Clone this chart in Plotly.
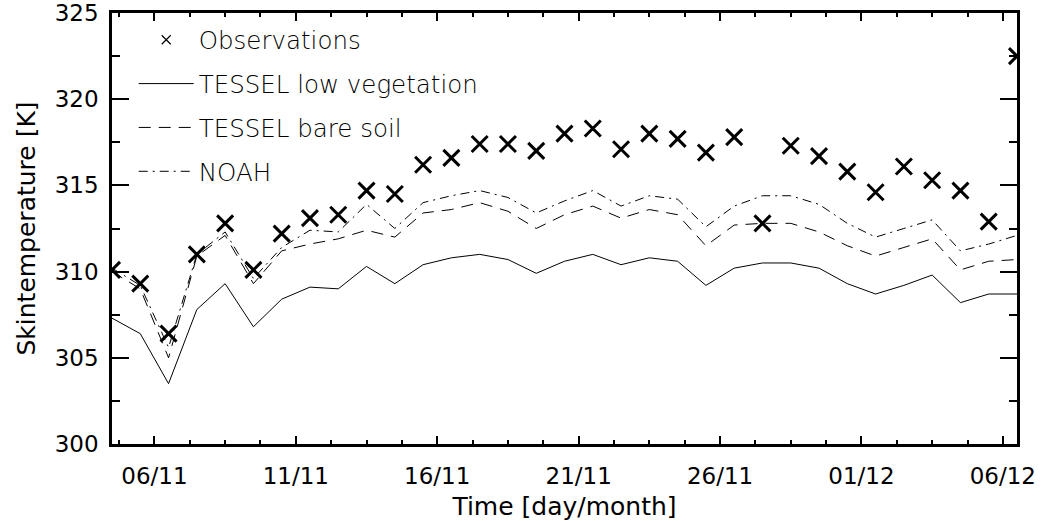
import plotly.graph_objects as go

# Day of November (values > 30 run into December), one value per day at noon
day = [4.5, 5.5, 6.5, 7.5, 8.5, 9.5, 10.5, 11.5, 12.5, 13.5, 14.5, 15.5, 16.5,
       17.5, 18.5, 19.5, 20.5, 21.5, 22.5, 23.5, 24.5, 25.5, 26.5, 27.5, 28.5,
       29.5, 30.5, 31.5, 32.5, 33.5, 34.5, 35.5, 36.5]

observations = [310.1, 309.3, 306.4, 311.0, 312.8, 310.1, 312.2, 313.1, 313.3,
                314.7, 314.5, 316.2, 316.6, 317.4, 317.4, 317.0, 318.0, 318.3,
                317.1, 318.0, 317.7, 316.9, 317.8, 312.8, 317.3, 316.7, 315.8,
                314.6, 316.1, 315.3, 314.7, 312.9, 322.5]

tessel_low_veg = [307.3, 306.4, 303.5, 307.8, 309.3, 306.8, 308.4, 309.1, 309.0,
                  310.3, 309.3, 310.4, 310.8, 311.0, 310.7, 309.9, 310.6, 311.0,
                  310.4, 310.8, 310.6, 309.2, 310.2, 310.5, 310.5, 310.2, 309.3,
                  308.7, 309.2, 309.8, 308.2, 308.7, 308.7]

tessel_bare_soil = [310.0, 309.0, 305.0, 310.9, 312.1, 309.3, 311.2, 311.6, 311.9,
                    312.4, 312.0, 313.4, 313.6, 314.0, 313.5, 312.5, 313.3, 313.8,
                    313.1, 313.6, 313.3, 311.5, 312.7, 312.8, 312.8, 312.3, 311.5,
                    310.9, 311.4, 311.9, 310.1, 310.6, 310.7]

noah = [310.2, 309.2, 305.6, 311.0, 312.3, 309.6, 311.4, 312.4, 312.3,
        313.9, 312.5, 314.0, 314.4, 314.7, 314.3, 313.4, 314.1, 314.7,
        313.8, 314.4, 314.2, 312.6, 313.8, 314.4, 314.4, 313.9, 312.8,
        312.0, 312.5, 313.0, 311.2, 311.6, 312.1]

tick_vals = [6, 11, 16, 21, 26, 31, 36]
tick_text = ["06/11", "11/11", "16/11", "21/11", "26/11", "01/12", "06/12"]

FONT = "DejaVu Sans"

fig = go.Figure()

# legend-only entry for observations (small thin x like the reference legend)
fig.add_trace(go.Scatter(
    x=[None], y=[None], mode="markers", name="Observations",
    legendgroup="a",
    marker=dict(symbol="x-thin", size=9, color="black",
                line=dict(width=1.2, color="black")),
))
fig.add_trace(go.Scatter(
    x=day, y=observations, mode="markers", name="Observations",
    showlegend=False, cliponaxis=True,
    marker=dict(symbol="x-thin", size=16, color="black",
                line=dict(width=3, color="black")),
))
fig.add_trace(go.Scatter(
    x=day, y=tessel_low_veg, mode="lines", name="TESSEL low vegetation",
    legendgroup="b",
    line=dict(color="black", width=1),
))
fig.add_trace(go.Scatter(
    x=day, y=tessel_bare_soil, mode="lines", name="TESSEL bare soil",
    legendgroup="c",
    line=dict(color="black", width=1, dash="12px,8px"),
))
fig.add_trace(go.Scatter(
    x=day, y=noah, mode="lines", name="NOAH",
    legendgroup="d",
    line=dict(color="black", width=1, dash="9px,5px,2px,5px"),
))

fig.update_layout(
    template="none",
    width=1048, height=521,
    margin=dict(l=112, r=31, t=13, b=77, autoexpand=False),
    paper_bgcolor="white", plot_bgcolor="white",
    font=dict(family=FONT, color="black", size=22),
    showlegend=True,
    legend=dict(
        x=0.024, y=0.99, xanchor="left", yanchor="top",
        bgcolor="rgba(0,0,0,0)", borderwidth=0,
        font=dict(family=FONT, size=24.5, color="black", weight=300),
        traceorder="grouped", tracegroupgap=9, itemwidth=55,
    ),
    xaxis=dict(
        range=[4.5, 36.5], automargin=False,
        tickmode="array", tickvals=tick_vals, ticktext=tick_text,
        ticks="inside", ticklen=8, tickwidth=2, tickcolor="black",
        minor=dict(dtick=1.25, tick0=6, ticks="inside", ticklen=4,
                   tickwidth=2, tickcolor="black", showgrid=False),
        showline=True, linewidth=2.5, linecolor="black", mirror="ticks",
        showgrid=False, zeroline=False,
        tickfont=dict(size=23),
        ticklabelstandoff=10,
        title=dict(text="Time [day/month]", font=dict(size=25), standoff=11),
    ),
    yaxis=dict(
        range=[300, 325], automargin=False,
        tickmode="linear", tick0=300, dtick=5,
        ticks="inside", ticklen=17, tickwidth=2, tickcolor="black",
        minor=dict(dtick=2.5, tick0=300, ticks="inside", ticklen=8,
                   tickwidth=2, tickcolor="black", showgrid=False),
        showline=True, linewidth=2.5, linecolor="black", mirror="ticks",
        showgrid=False, zeroline=False,
        tickfont=dict(size=23),
        ticklabelstandoff=6,
        title=dict(text="Skintemperature [K]", font=dict(size=25), standoff=12),
    ),
)

fig.write_html("out.html", config={"displayModeBar": False},
               post_script="document.body.style.margin='0';document.body.style.padding='0';")
